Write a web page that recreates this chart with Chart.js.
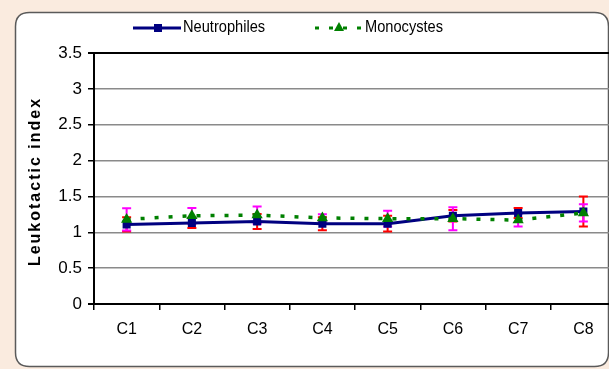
<!DOCTYPE html>
<html>
<head>
<meta charset="utf-8">
<script src="https://cdn.jsdelivr.net/npm/chart.js@4/dist/chart.umd.min.js"></script>
<style>
  html, body { margin: 0; padding: 0; overflow: hidden; background: #FAEBDF; }
  #wrap { position: relative; width: 630px; height: 369px; }
</style>
</head>
<body>
<div id="wrap"><canvas id="chart"></canvas></div>
<script>
// Leukotactic index per condition
const categories = ['C1', 'C2', 'C3', 'C4', 'C5', 'C6', 'C7', 'C8'];
const neutrophiles    = [1.11, 1.13, 1.15, 1.12, 1.12, 1.23, 1.27, 1.29];
const neutrophilesErr = [0.10, 0.07, 0.105, 0.09, 0.11, 0.08, 0.07, 0.21];
const monocystes      = [1.18, 1.23, 1.24, 1.20, 1.19, 1.19, 1.17, 1.27];
const monocystesErr   = [0.155, 0.11, 0.12, 0.05, 0.11, 0.16, 0.09, 0.12];
const yTicks = [0, 0.5, 1, 1.5, 2, 2.5, 3, 3.5];

const FONT = "'Liberation Sans Narrow', 'Liberation Sans', Arial, sans-serif";
const NAVY = '#000080';
const GREEN = '#008000';

Chart.defaults.font.family = FONT;
Chart.defaults.color = '#000';

// rounded white panel behind the chart
const framePlugin = {
  id: 'frame',
  beforeDraw(chart) {
    const ctx = chart.ctx;
    const x = 15.5, y = 12.5, w = 593, h = 354, r = 14;
    ctx.save();
    ctx.beginPath();
    ctx.moveTo(x + r, y);
    ctx.lineTo(x + w - r, y);
    ctx.quadraticCurveTo(x + w, y, x + w, y + r);
    ctx.lineTo(x + w, y + h - r);
    ctx.quadraticCurveTo(x + w, y + h, x + w - r, y + h);
    ctx.lineTo(x + r, y + h);
    ctx.quadraticCurveTo(x, y + h, x, y + h - r);
    ctx.lineTo(x, y + r);
    ctx.quadraticCurveTo(x, y, x + r, y);
    ctx.closePath();
    ctx.fillStyle = '#fff';
    ctx.fill();
    ctx.lineWidth = 1.5;
    ctx.strokeStyle = '#5a5a5a';
    ctx.stroke();
    ctx.restore();
  }
};

// vertical error bars with caps, placed through the y scale
const errorBarPlugin = {
  id: 'errorBars',
  beforeDatasetsDraw(chart) {
    const ctx = chart.ctx;
    const yScale = chart.scales.y;
    chart.data.datasets.forEach((ds, i) => {
      if (!ds.errors) return;
      const meta = chart.getDatasetMeta(i);
      ctx.save();
      ctx.strokeStyle = ds.errorColor;
      ctx.lineWidth = 2;
      meta.data.forEach((pt, j) => {
        const v = ds.data[j], e = ds.errors[j];
        const yt = yScale.getPixelForValue(v + e);
        const yb = yScale.getPixelForValue(v - e);
        const x = pt.x;
        ctx.beginPath();
        ctx.moveTo(x, yt); ctx.lineTo(x, yb);
        ctx.moveTo(x - 4.5, yt); ctx.lineTo(x + 4.5, yt);
        ctx.moveTo(x - 4.5, yb); ctx.lineTo(x + 4.5, yb);
        ctx.stroke();
      });
      ctx.restore();
    });
  }
};

// legend samples and y axis title
const decorPlugin = {
  id: 'decor',
  afterDraw(chart) {
    const ctx = chart.ctx;
    const ds = chart.data.datasets;
    const ly = 28;
    ctx.save();
    // Neutrophiles sample
    ctx.strokeStyle = ds[0].borderColor;
    ctx.lineWidth = 3;
    ctx.beginPath(); ctx.moveTo(133, ly); ctx.lineTo(181, ly); ctx.stroke();
    ctx.fillStyle = ds[0].borderColor;
    ctx.fillRect(154, ly - 4, 8, 8);
    // Monocystes sample
    ctx.strokeStyle = ds[1].borderColor;
    ctx.setLineDash(ds[1].borderDash);
    ctx.beginPath(); ctx.moveTo(315, ly); ctx.lineTo(364, ly); ctx.stroke();
    ctx.setLineDash([]);
    ctx.fillStyle = ds[1].borderColor;
    ctx.beginPath();
    ctx.moveTo(339, ly - 6); ctx.lineTo(344, ly + 3); ctx.lineTo(334, ly + 3);
    ctx.closePath(); ctx.fill();
    // legend text, slightly condensed
    ctx.fillStyle = '#000';
    ctx.font = '17px ' + FONT;
    ctx.textBaseline = 'middle';
    ctx.textAlign = 'left';
    [[ds[0].label, 183], [ds[1].label, 365]].forEach(([t, x]) => {
      ctx.save();
      ctx.translate(x, ly - 1);
      ctx.scale(0.86, 1);
      ctx.fillText(t, 0, 0);
      ctx.restore();
    });
    // y axis title
    const ca = chart.chartArea;
    ctx.translate(36, (ca.top + ca.bottom) / 2 + 3);
    ctx.rotate(-Math.PI / 2);
    ctx.font = "bold 16px 'Liberation Sans', Arial, sans-serif";
    ctx.letterSpacing = '2px';
    ctx.textAlign = 'center';
    ctx.fillText('Leukotactic index', 0, 0);
    ctx.restore();
  }
};

new Chart(document.getElementById('chart'), {
  type: 'line',
  data: {
    labels: categories,
    datasets: [
      {
        label: 'Neutrophiles',
        data: neutrophiles,
        errors: neutrophilesErr,
        errorColor: '#FF0000',
        borderColor: NAVY,
        backgroundColor: NAVY,
        borderWidth: 3,
        pointStyle: 'rect',
        pointRadius: 5.7,
        pointBorderWidth: 0,
        tension: 0,
        order: 2
      },
      {
        label: 'Monocystes',
        data: monocystes,
        errors: monocystesErr,
        errorColor: '#FF00FF',
        borderColor: GREEN,
        backgroundColor: GREEN,
        borderWidth: 3.5,
        borderDash: [4, 10],
        borderCapStyle: 'butt',
        pointStyle: 'triangle',
        pointRadius: 6.5,
        pointBorderWidth: 0,
        tension: 0,
        order: 1
      }
    ]
  },
  options: {
    responsive: true,
    maintainAspectRatio: false,
    animation: false,
    layout: { padding: { top: 53, left: 0, right: 14, bottom: 0 } },
    plugins: {
      legend: { display: false },
      tooltip: { enabled: false }
    },
    scales: {
      x: {
        offset: true,
        afterFit(s) { s.height = 65; },
        grid: {
          offset: true,
          drawOnChartArea: false,
          drawTicks: true,
          tickLength: 6,
          tickColor: '#000',
          lineWidth: 1.5
        },
        border: { display: true, color: '#000', width: 2 },
        ticks: { font: { size: 16 }, color: '#000', padding: 10, maxRotation: 0 }
      },
      y: {
        min: 0,
        max: 3.5,
        afterFit(s) { s.width = 94; },
        afterBuildTicks(s) { s.ticks = yTicks.map(v => ({ value: v })); },
        grid: {
          color: c => (c.tick && (c.tick.value === 0 || c.tick.value === 3.5)) ? '#000' : '#8a8a8a',
          lineWidth: c => (c.tick && (c.tick.value === 0 || c.tick.value === 3.5)) ? 2 : 1.5,
          tickColor: '#000',
          tickLength: 6,
          drawTicks: true
        },
        border: { display: true, color: '#000', width: 2 },
        ticks: {
          font: { size: 17 },
          color: '#000',
          padding: 6,
          callback: v => String(v)
        }
      }
    }
  },
  plugins: [framePlugin, errorBarPlugin, decorPlugin]
});
</script>
</body>
</html>
